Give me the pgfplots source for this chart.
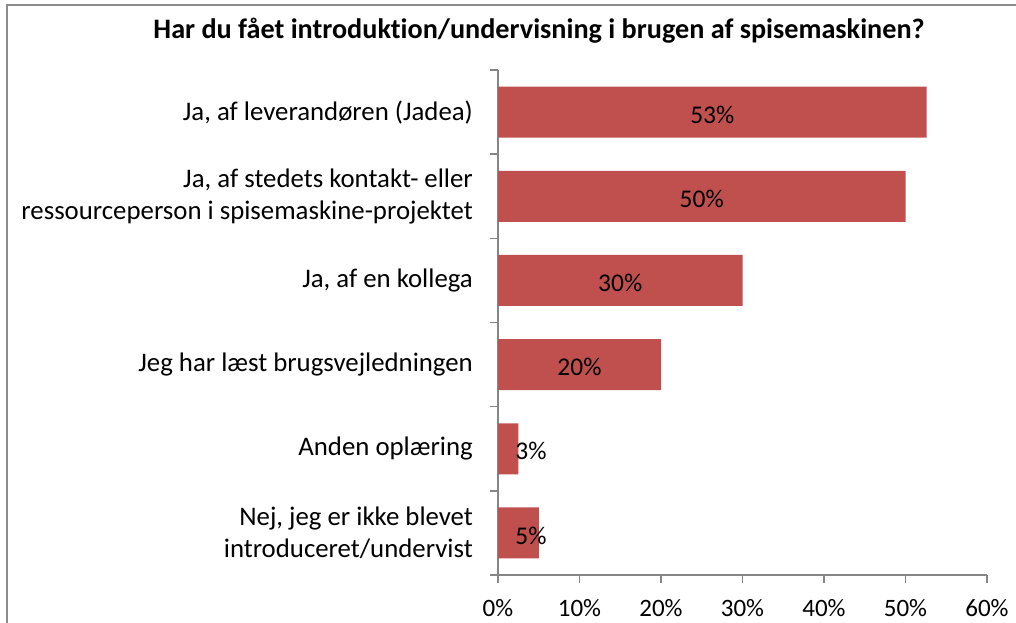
\documentclass[border=0pt]{standalone}
\usepackage{pgfplots}
\pgfplotsset{compat=1.18}
\usepackage{fontspec}
\setmainfont{Carlito}[Ligatures={NoCommon}]
\definecolor{barred}{HTML}{C0504D}
\definecolor{axgray}{HTML}{868686}
\definecolor{framegray}{HTML}{8C8C8C}
\newcommand{\cf}{\fontsize{25}{30}\selectfont}
\newcommand{\lf}{\fontsize{26.8}{31.5}\selectfont}
\pgfplotstableread{
y val lx lab
5 52.6 26.3 53
4 50.0 25.0 50
3 30.0 15.0 30
2 20.0 10.0 20
1 2.5 4.05 3
0 5.0 4.05 5
}\datatab
\begin{document}
\begin{tikzpicture}[x=1pt,y=1pt]
\useasboundingbox (0,0) rectangle (1016,622);
\draw[framegray, line width=2pt] (6.5,-5) -- (6.5,617) -- (1025,617);
\node[font=\fontsize{28.2}{33}\selectfont\bfseries, anchor=base] at (539,583) {Har du fået introduktion/undervisning i brugen af spisemaskinen?};
\begin{axis}[
  at={(498pt,47pt)}, anchor=south west,
  scale only axis, width=489pt, height=505pt,
  xmin=0, xmax=60, ymin=-0.5, ymax=5.5,
  axis x line*=bottom, axis y line*=left,
  axis line style={axgray, line width=1.5pt},
  tick align=outside,
  major tick length=0pt, minor tick length=8pt,
  every tick/.style={axgray, line width=1.5pt},
  /pgf/number format/assume math mode=true,
  xtick={0,10,...,60},
  minor xtick={0,10,...,60},
  xticklabels={0\%,10\%,20\%,30\%,40\%,50\%,60\%},
  ytick={0,...,5},
  minor ytick={-0.5,0.5,...,5.5},
  yticklabels={{Nej, jeg er ikke blevet\\introduceret/undervist},{Anden oplæring},{Jeg har læst brugsvejledningen},{Ja, af en kollega},{Ja, af stedets kontakt- eller\\ressourceperson i spisemaskine-projektet},{Ja, af leverandøren (Jadea)}},
  xticklabel style={font=\cf, anchor=base, inner sep=0pt, yshift=-41pt},
  yticklabel style={font=\lf, align=right, anchor=east, inner sep=0pt, xshift=-25pt},
  clip=false,
]
\addplot[xbar, bar width=51pt, fill=barred, draw=none] table[x=val, y=y] {\datatab};
\addplot[draw=none, mark=none, nodes near coords={\pgfmathprintnumber[fixed,precision=0,assume math mode=true]{\pgfplotspointmeta}\%}, nodes near coords align=center, point meta=explicit, every node near coord/.append style={font=\fontsize{25.5}{30}\selectfont, inner sep=0pt, yshift=-2.5pt}] table[x=lx, y=y, meta=lab] {\datatab};
\end{axis}
\end{tikzpicture}
\end{document}
